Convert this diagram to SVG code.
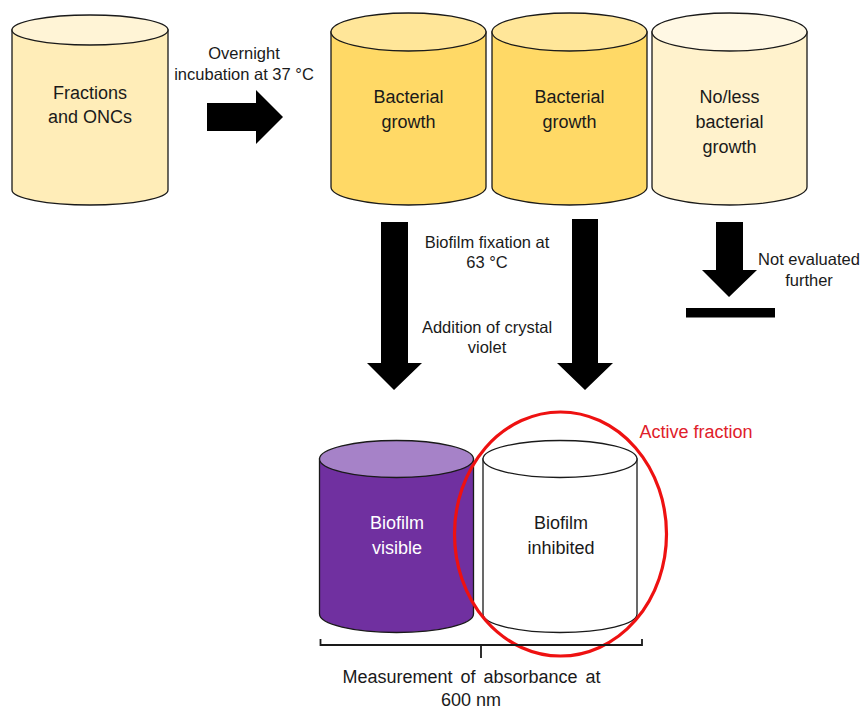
<svg xmlns="http://www.w3.org/2000/svg" width="862" height="711" viewBox="0 0 862 711">
  <style>
    .lbl { font-family: "Liberation Sans", Arial, sans-serif; font-size: 18px; fill: #1a1a1a; text-anchor: middle; }
    .sm { font-family: "Liberation Sans", Arial, sans-serif; font-size: 16.5px; fill: #1a1a1a; text-anchor: middle; }
    .edge { stroke: #1a1a1a; stroke-width: 1.3; }
    .arrow { fill: #000; }
  </style>
  <rect width="862" height="711" fill="#fff"/>

  <!-- Cylinder: body path then top ellipse -->
  <g id="fractions">
    <path class="edge" fill="#FFEDB8" d="M12,30 V190 A78,15 0 0 0 168,190 V30 Z"/>
    <ellipse class="edge" cx="90" cy="30" rx="78" ry="15" fill="#FFF4D6"/>
    <text class="lbl" x="90" y="99">Fractions</text>
    <text class="lbl" x="90" y="123">and ONCs</text>
  </g>

  <g id="growth-1">
    <path class="edge" fill="#FFD966" d="M331,32 V187 A77.5,18 0 0 0 486,187 V32 Z"/>
    <ellipse class="edge" cx="408.5" cy="32" rx="77.5" ry="19" fill="#FFE699"/>
    <text class="lbl" x="408.5" y="103">Bacterial</text>
    <text class="lbl" x="408.5" y="128">growth</text>
  </g>

  <g id="growth-2">
    <path class="edge" fill="#FFD966" d="M492,32 V187 A77.5,18 0 0 0 647,187 V32 Z"/>
    <ellipse class="edge" cx="569.5" cy="32" rx="77.5" ry="19" fill="#FFE699"/>
    <text class="lbl" x="569.5" y="103">Bacterial</text>
    <text class="lbl" x="569.5" y="128">growth</text>
  </g>

  <g id="no-growth">
    <path class="edge" fill="#FFF2CC" d="M652,32 V187 A77.5,18 0 0 0 807,187 V32 Z"/>
    <ellipse class="edge" cx="729.5" cy="32" rx="77.5" ry="19" fill="#FFF8E4"/>
    <text class="lbl" x="729.5" y="103">No/less</text>
    <text class="lbl" x="729.5" y="128">bacterial</text>
    <text class="lbl" x="729.5" y="153">growth</text>
  </g>

  <g id="biofilm-visible">
    <path class="edge" fill="#7030A0" d="M319.5,459 V614 A77,18.5 0 0 0 473.5,614 V459 Z"/>
    <ellipse class="edge" cx="396.5" cy="459" rx="77" ry="18.5" fill="#A682C8"/>
    <text class="lbl" x="397" y="529" style="fill:#fff">Biofilm</text>
    <text class="lbl" x="397" y="554" style="fill:#fff">visible</text>
  </g>

  <g id="biofilm-inhibited">
    <path class="edge" fill="#fff" d="M483,459 V614 A77,18.5 0 0 0 637,614 V459 Z"/>
    <ellipse class="edge" cx="560" cy="459" rx="77" ry="18.5" fill="#fff"/>
    <text class="lbl" x="561" y="529">Biofilm</text>
    <text class="lbl" x="561" y="554">inhibited</text>
  </g>

  <g id="active-fraction">
    <ellipse cx="560.5" cy="534" rx="106" ry="122" fill="none" stroke="#EE1111" stroke-width="3.2"/>
    <text class="lbl" x="696" y="438" style="fill:#E0202A">Active fraction</text>
  </g>

  <g id="measurement">
    <path d="M320.5,639 V645 H642 V639 M481,645 V658" fill="none" stroke="#1a1a1a" stroke-width="1.8"/>
    <text class="lbl" x="471.5" y="683" word-spacing="3">Measurement of absorbance at</text>
    <text class="lbl" x="471" y="706">600 nm</text>
  </g>

  <!-- Block arrows and step labels -->
  <g id="connectors">
    <polygon class="arrow" points="207,103 256,103 256,90 283,117 256,144 256,131 207,131"/>
    <polygon class="arrow" points="381,222 408,222 408,363 422,363 394,390 367,363 381,363"/>
    <polygon class="arrow" points="572,219 598,219 598,363 613,363 585,390 557,363 572,363"/>
    <polygon class="arrow" points="716,222 743,222 743,270 757,270 729,297 702,270 716,270"/>
    <rect x="686" y="308" width="89" height="9.5" fill="#000"/>
    <text class="sm" x="244" y="59">Overnight</text>
    <text class="sm" x="244" y="80">incubation at 37 °C</text>
    <text class="sm" x="487" y="248">Biofilm fixation at</text>
    <text class="sm" x="487" y="268">63 °C</text>
    <text class="sm" x="487" y="333">Addition of crystal</text>
    <text class="sm" x="487" y="353">violet</text>
    <text class="sm" x="809" y="265">Not evaluated</text>
    <text class="sm" x="809" y="286">further</text>
  </g>
</svg>
